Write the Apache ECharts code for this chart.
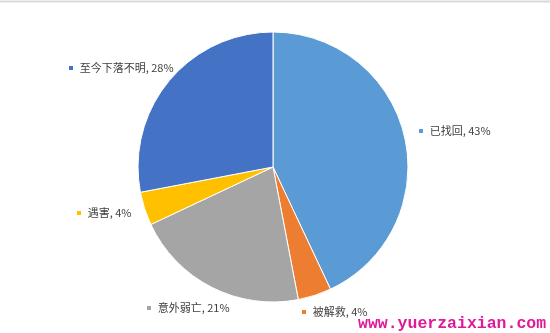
<!DOCTYPE html>
<html>
<head>
<meta charset="utf-8">
<script src="https://cdn.jsdelivr.net/npm/echarts@6/dist/echarts.min.js"></script>
<style>
html,body{margin:0;padding:0;background:#fff;}
#chart{width:550px;height:333px;}
</style>
</head>
<body>
<div id="chart"></div>
<script>
var categories = ['已找回', '被解救', '意外弱亡', '遇害', '至今下落不明'];
var values = [43, 4, 21, 4, 28];
var colors = ['#5B9BD5', '#ED7D31', '#A5A5A5', '#FFC000', '#4472C4'];
var labelPos = [[419, 131], [302, 312], [147, 308], [77, 213], [69, 68]];

var chart = echarts.init(document.getElementById('chart'), null, {renderer: 'canvas'});
var data = categories.map(function (c, i) {
  return {
    name: c,
    value: values[i],
    itemStyle: {color: colors[i]},
    label: {rich: {m: {width: 4, height: 4, backgroundColor: colors[i]}}}
  };
});
chart.setOption({
  animation: false,
  backgroundColor: '#fff',
  graphic: [
    {type: 'line', shape: {x1: 0, y1: 1.5, x2: 550, y2: 1.5}, style: {stroke: '#d9d9d9', lineWidth: 2}},
    {type: 'text', left: 358, top: 315, style: {text: 'www.yuerzaixian.com', fill: '#e0189a', font: 'bold 16.5px "Liberation Mono", "DejaVu Sans Mono", monospace'}}
  ],
  series: [{
    type: 'pie',
    center: [273, 167],
    radius: [0, 135],
    startAngle: 90,
    clockwise: true,
    avoidLabelOverlap: false,
    itemStyle: {borderColor: '#fff', borderWidth: 1},
    label: {
      show: true,
      position: 'outside',
      formatter: '{m|}  {t|{b}, {c}%}',
      rich: {
        t: {fontFamily: '"Noto Sans CJK SC", sans-serif', fontSize: 11, color: '#404040'}
      }
    },
    labelLine: {show: false},
    labelLayout: function (p) {
      var pos = labelPos[p.dataIndex];
      return {x: pos[0], y: pos[1], align: 'left', verticalAlign: 'middle'};
    },
    data: data
  }]
});
</script>
</body>
</html>
